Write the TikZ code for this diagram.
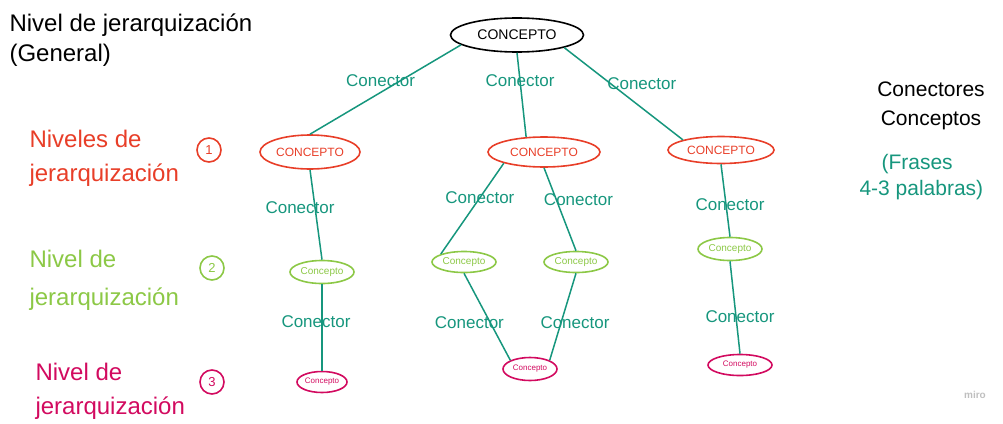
\documentclass[tikz,border=0pt]{standalone}
\usepackage{fontspec}
\setmainfont{Liberation Sans}
\usetikzlibrary{shapes.geometric, positioning}

\definecolor{conncol}{RGB}{22,150,125}
\definecolor{lvlone}{RGB}{232,62,40}
\definecolor{lvltwo}{RGB}{140,200,70}
\definecolor{lvlthree}{RGB}{210,10,95}

\begin{document}
\begin{tikzpicture} [x=1pt, y=-1pt,
    concepto/.style={ellipse, draw, line width=1.6pt, inner sep=0pt},
    nivel0/.style={concepto, minimum width=133pt, minimum height=34pt, font=\fontsize{14}{14}\selectfont},
    nivel1/.style={concepto, draw=lvlone, text=lvlone, minimum width=106pt, minimum height=30pt, font=\fontsize{12}{12}\selectfont},
    nivel2/.style={concepto, draw=lvltwo, text=lvltwo, minimum width=64pt, minimum height=23pt, font=\fontsize{10}{10}\selectfont},
    nivel3/.style={concepto, draw=lvlthree, text=lvlthree, minimum width=54pt, minimum height=21pt, font=\fontsize{8}{8}\selectfont},
    conector/.style={draw=conncol, line width=1.5pt},
    etiqueta/.style={text=conncol, inner sep=1pt, font=\fontsize{17}{17}\selectfont},
    rotulo/.style={align=left, anchor=west, font=\fontsize{24}{34}\selectfont},
    numero/.style={circle, draw, line width=1.6pt, inner sep=0pt, minimum size=24pt, font=\fontsize{13}{13}\selectfont}]

        \useasboundingbox (0,0) rectangle (1003,423);

        % titulo y niveles
        \node (general) [rotulo, anchor=north west, font=\fontsize{24}{30}\selectfont] at (6,10)
        {Nivel de jerarquización\\(General)};

        \node (niv1) [rotulo, text=lvlone] at (26,158) {Niveles de\\jerarquización};
        \node (num1) [numero, draw=lvlone, text=lvlone] at (209,150) {1};
        \node (niv2) [rotulo, text=lvltwo, font=\fontsize{24}{38}\selectfont] at (26,280) {Nivel de\\jerarquización};
        \node (num2) [numero, draw=lvltwo, text=lvltwo] at (212,268) {2};
        \node (niv3) [rotulo, text=lvlthree] at (32,391) {Nivel de\\jerarquización};
        \node (num3) [numero, draw=lvlthree, text=lvlthree] at (212,382) {3};

        % conceptos
        \node (top) [nivel0] at (517,35) {CONCEPTO};

        \node (n1a) [nivel1, minimum width=100pt, minimum height=34pt] at (310,152) {CONCEPTO};
        \node (n1b) [nivel1, minimum width=112pt] at (544,152) {CONCEPTO};
        \node (n1c) [nivel1, minimum height=27pt] at (721,150) {CONCEPTO};

        \node (n2a) [nivel2] at (322,272) {Concepto};
        \node (n2b) [nivel2, minimum height=21pt] at (464,262) {Concepto};
        \node (n2c) [nivel2, minimum height=21pt] at (576,262) {Concepto};
        \node (n2d) [nivel2] at (730,249) {Concepto};

        \node (n3a) [nivel3, minimum width=50pt] at (322,382) {Concepto};
        \node (n3b) [nivel3, minimum height=23pt] at (530,369) {Concepto};
        \node (n3c) [nivel3, minimum width=64pt] at (740,365) {Concepto};

        % conectores
        \path [conector]
        (top.190) edge node [etiqueta, pos=0.4, xshift=-20pt] {Conector} (n1a.north)
        (top.south) edge node [etiqueta, pos=0.33] {Conector} (n1b.140)
        (top.345) edge node [etiqueta, pos=0.39, anchor=west, xshift=-5pt] {Conector} (n1c.north west)
        (n1a.south) edge node [etiqueta, pos=0.42, xshift=-15pt] {Conector} (n2a.north)
        (n1b.south west) edge node [etiqueta, pos=0.38] {Conector} (n2b.north west)
        (n1b.south) edge node [etiqueta, pos=0.39, xshift=22pt] {Conector} (n2c.north)
        (n1c.south) edge node [etiqueta, pos=0.56, xshift=4pt] {Conector} (n2d.north)
        (n2a.south) edge node [etiqueta, pos=0.43, xshift=-6pt] {Conector} (n3a.north)
        (n2b.south) edge node [etiqueta, pos=0.57, xshift=-21pt] {Conector} (n3b.north west)
        (n2c.south) edge node [etiqueta, pos=0.57, xshift=14pt] {Conector} (n3b.north east)
        (n2d.south) edge node [etiqueta, pos=0.6, xshift=4pt] {Conector} (n3c.north)
        ;

        % notas a la derecha
        \node (nota1) [font=\fontsize{21}{21}\selectfont] at (931,89) {Conectores};
        \node (nota2) [font=\fontsize{21}{21}\selectfont] at (931,120) {Conceptos};
        \node (nota3) [text=conncol, anchor=west, font=\fontsize{21}{21}\selectfont] at (878,164) {(Frases};
        \node (nota4) [text=conncol, anchor=west, font=\fontsize{21}{21}\selectfont] at (856,190) {4-3 palabras)};

        \node (miro) [text=black!25, font=\fontsize{10}{10}\selectfont\bfseries] at (975,395) {miro};
    \end{tikzpicture}
\end{document}
